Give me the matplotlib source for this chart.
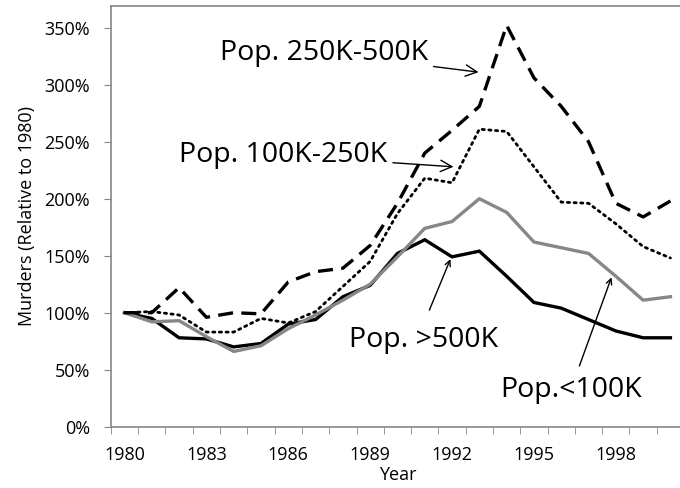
import matplotlib.pyplot as plt
import numpy as np

plt.rcParams['font.family'] = ['Open Sans', 'DejaVu Sans']

# Data (percent of 1980 level)
years = list(range(1980, 2001))
pop_500k_plus = [100, 95, 78, 77, 70, 73, 90, 94, 114, 124, 152, 164, 149, 154, 132, 109, 104, 94, 84, 78, 78]
pop_250k_500k = [100, 100, 122, 96, 100, 99, 127, 136, 139, 159, 196, 240, 260, 281, 352, 306, 281, 250, 196, 184, 198]
pop_100k_250k = [100, 101, 98, 83, 83, 95, 91, 101, 123, 145, 187, 218, 214, 261, 259, 228, 197, 196, 178, 158, 148]
pop_under_100k = [100, 92, 93, 79, 66, 71, 86, 98, 111, 125, 149, 174, 180, 200, 188, 162, 157, 152, 132, 111, 114]

x = np.arange(len(years))
year_labels = [str(y) for y in years[::3]]

fig = plt.figure(figsize=(6.8, 4.88), dpi=100)
ax = fig.add_axes([0.163, 0.1256, 0.843, 0.862])

ax.plot(x, pop_500k_plus, color='black', lw=2.4, solid_joinstyle='miter')
ax.plot(x, pop_under_100k, color='#878787', lw=2.4)
ax.plot(x, pop_250k_500k, color='black', lw=2.4, dashes=(4.5, 2.5))
ax.plot(x, pop_100k_250k, color='black', lw=2.0, linestyle=(0, (0.8, 1.6)), dash_capstyle='round')

ax.set_xlim(-0.5, 20.5)
ax.set_ylim(0, 369)
ax.set_yticks(range(0, 351, 50))
ax.set_yticklabels([f'{v}%' for v in range(0, 351, 50)])
ax.set_xticks(x[::3])
ax.set_xticklabels(year_labels)
ax.set_xticks(np.arange(-0.5, 21, 1), minor=True)

for s in ['left', 'bottom', 'top']:
    ax.spines[s].set_color('#868686')
    ax.spines[s].set_linewidth(1.2)
ax.spines['right'].set_visible(False)
ax.tick_params(axis='y', direction='out', length=5, color='#868686', labelsize=13, pad=10)
ax.tick_params(axis='x', which='major', length=0, labelsize=13, pad=14)
ax.tick_params(axis='x', which='minor', direction='out', length=5, color='#868686')

ax.set_xlabel('Year', fontsize=13, labelpad=1)
ax.set_ylabel('Murders (Relative to 1980)', fontsize=13, labelpad=6)

arrow = dict(arrowstyle='->', color='black', lw=1, shrinkA=2, shrinkB=0)
ax.annotate('Pop. 250K-500K', xy=(12.97, 311), xytext=(11.12, 328),
            fontsize=20.5, ha='right', va='center', arrowprops=arrow)
ax.annotate('Pop. 100K-250K', xy=(12.05, 228), xytext=(9.63, 238),
            fontsize=20.5, ha='right', va='center', arrowprops=arrow)
ax.annotate('', xy=(11.94, 147), xytext=(11.13, 100), arrowprops=arrow)
ax.text(13.7, 76, 'Pop. >500K', fontsize=20.5, ha='right', va='center')
ax.annotate('', xy=(17.84, 131), xytext=(16.63, 51), arrowprops=arrow)
ax.text(13.77, 32, 'Pop.<100K', fontsize=20.5, ha='left', va='center')

fig.savefig('out.png', dpi=100)
